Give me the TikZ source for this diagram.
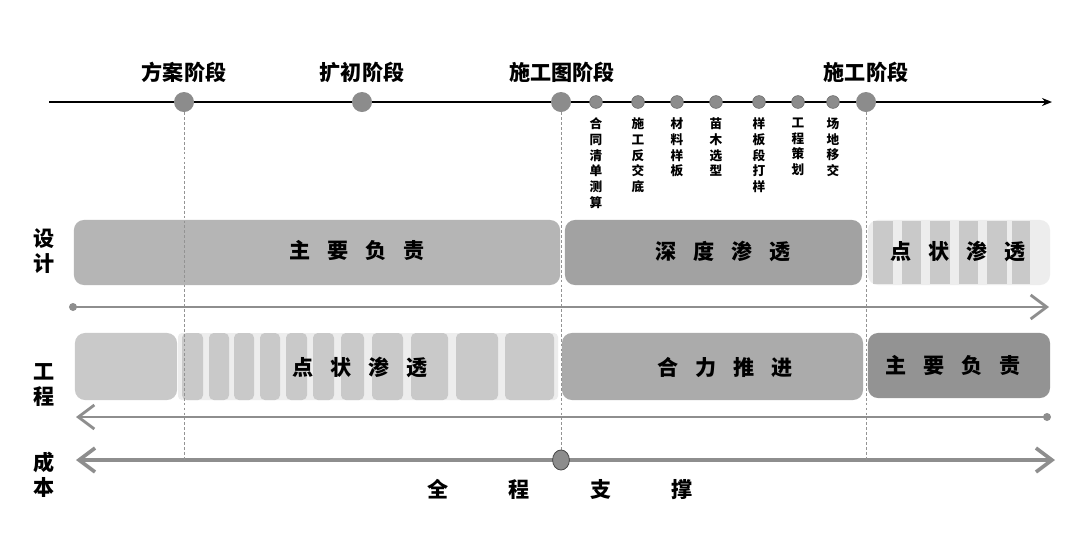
\documentclass[tikz,border=0pt]{standalone}
\usepackage{fontspec}
\newfontfamily\cjk{Noto Sans CJK SC}
\usepackage{xcolor}
\usepackage{tikz}
\usetikzlibrary{arrows.meta, positioning, calc, shapes.geometric}

\definecolor{leadgrey}{HTML}{B5B5B5}
\definecolor{deepgrey}{HTML}{A2A2A2}
\definecolor{palegrey}{HTML}{EDEDED}
\definecolor{stripegrey}{HTML}{C9C9C9}
\definecolor{jointgrey}{HTML}{ABABAB}
\definecolor{darkgrey}{HTML}{939393}
\definecolor{flowgrey}{HTML}{8E8E8E}
\definecolor{dotgrey}{HTML}{8C8C8C}

\newcommand{\chargap}{\hspace{0.8em}}
\newcommand{\widegap}{\hspace{2.85em}}

\tikzset{
  stage/.style={font=\cjk\bfseries\fontsize{15}{17}\selectfont},
  item/.style={font=\cjk\bfseries\fontsize{9}{11.2}\selectfont, align=center, inner sep=0pt},
  side/.style={font=\cjk\bfseries\fontsize{15}{17.5}\selectfont, align=center, inner sep=0pt},
  boxtext/.style={font=\cjk\bfseries\fontsize{15}{17}\selectfont, inner sep=0pt},
  bigdot/.style={circle, fill=dotgrey, inner sep=0pt, minimum size=0.5cm},
  smalldot/.style={circle, fill=dotgrey, draw=gray!80!black, line width=0.4pt, inner sep=0pt, minimum size=0.32cm},
  band/.style={rectangle, rounded corners=0.25cm, inner sep=0pt, minimum height=1.625cm},
  guide/.style={gray!85, line width=0.6pt, dash pattern=on 2pt off 1.5pt},
  flow/.style={flowgrey, line width=2pt, >={Straight Barb[length=0.4cm, width=0.6cm]}}
}

\begin{document}
\begin{tikzpicture}[x=0.025cm, y=-0.025cm]
\fill[white] (0,0) rectangle (1080,554);
\useasboundingbox (0,0) rectangle (1080,554);

% design row
\node[band, fill=leadgrey, minimum width=12.15cm] (dlead) at (317,252.5) {};
\node[band, fill=deepgrey, minimum width=7.425cm] (ddeep) at (713.5,252.5) {};
\node[band, fill=palegrey, minimum width=4.55cm] (dpoint) at (959,252.5) {};
\foreach \a/\b in {873/893, 902/921, 930/950, 959/978, 987/1007, 1012/1030}
  \fill[stripegrey] (\a,221) rectangle (\b,284);
\node[boxtext] at (357,251) {主\chargap 要\chargap 负\chargap 责};
\node[boxtext] at (723,251) {深\chargap 度\chargap 渗\chargap 透};
\node[boxtext] at (958,251) {点\chargap 状\chargap 渗\chargap 透};

% engineering row
\fill[palegrey, rounded corners=0.1cm] (178,333) rectangle (558,400);
\node[band, fill=stripegrey, minimum width=2.55cm, minimum height=1.675cm] (efirst) at (126,366.5) {};
\foreach \a/\b in {182/203, 209/229, 234/254, 260/280, 286/307, 313/334, 341/364, 372/403, 411/448, 456/498, 505/554}
  \fill[stripegrey, rounded corners=0.12cm] (\a,333) rectangle (\b,400);
\node[band, fill=jointgrey, minimum width=7.525cm, minimum height=1.675cm] (ejoint) at (712.5,366.5) {};
\node[band, fill=darkgrey, minimum width=4.55cm, minimum height=1.625cm] (elead) at (959,365.5) {};
\node[boxtext] at (360,367) {点\chargap 状\chargap 渗\chargap 透};
\node[boxtext] at (725,367) {合\chargap 力\chargap 推\chargap 进};
\node[boxtext] at (953,366) {主\chargap 要\chargap 负\chargap 责};

% side labels
\node[side] at (44,251) {设\\计};
\node[side] at (44,385) {工\\程};
\node[side] at (44,475) {成\\本};

% timeline
\coordinate (tstart) at (49,102);
\coordinate (tend) at (1052,102);
\draw[line width=1.4pt, -{Stealth[length=0.25cm, width=0.2cm]}] (tstart) -- (tend);

\node[bigdot] (fangan) at (184,102) {};
\node[bigdot] (kuochu) at (362,102) {};
\node[bigdot] (shitu) at (561,102) {};
\node[bigdot] (shigong) at (866,102) {};
\node[stage] at (184,72) {方案阶段};
\node[stage] at (362,72) {扩初阶段};
\node[stage] at (562,72) {施工图阶段};
\node[stage] at (866,72) {施工阶段};

\foreach \x/\txt [count=\i] in {596/合\\同\\清\\单\\测\\算, 638/施\\工\\反\\交\\底, 677/材\\料\\样\\板, 716/苗\\木\\选\\型, 759/样\\板\\段\\打\\样, 798/工\\程\\策\\划, 833/场\\地\\移\\交} {
  \node[smalldot] (m\i) at (\x,102) {};
  \node[item, below=0.22cm of m\i] {\txt};
}

% cost line
\coordinate (cleft) at (76,460);
\coordinate (cright) at (1055,460);
\draw[flow, line width=2.6pt, <->] (cleft) -- (cright);

% phase guides
\draw[guide] (fangan) -- (fangan |- cleft);
\draw[guide] (shitu) -- (shitu |- cleft);
\draw[guide] (shigong) -- (shigong |- cleft);

\node[ellipse, fill=dotgrey, draw=gray!60!black, line width=0.6pt, inner sep=0pt, minimum width=0.42cm, minimum height=0.5cm] (cmid) at (561,460) {};
\node[boxtext] at (560,489) {全\widegap 程\widegap 支\widegap 撑};

% design flow
\node[circle, fill=flowgrey, inner sep=0pt, minimum size=0.2cm] (dsrc) at (73,307) {};
\coordinate (dtip) at (1049,307);
\draw[flow, ->] (dsrc.center) -- (dtip);

% engineering flow
\node[circle, fill=flowgrey, inner sep=0pt, minimum size=0.2cm] (esrc) at (1047,417) {};
\coordinate (etip) at (76,417);
\draw[flow, ->] (esrc.center) -- (etip);
\end{tikzpicture}
\end{document}
